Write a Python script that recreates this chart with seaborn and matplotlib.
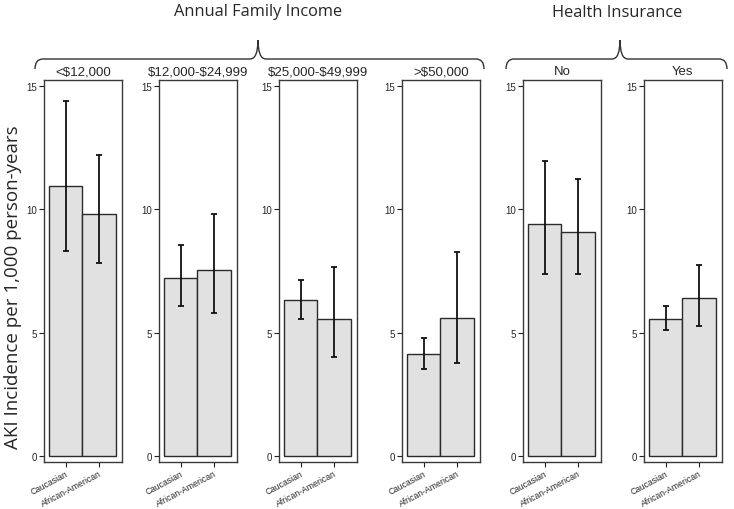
import matplotlib
matplotlib.use("Agg")
import matplotlib.pyplot as plt
from matplotlib.path import Path
from matplotlib.patches import PathPatch
import pandas as pd
import seaborn as sns

# data
races = ["Caucasian", "African-American"]
panel_titles = [r"<\$12,000", r"\$12,000-\$24,999", r"\$25,000-\$49,999", r">\$50,000", "No", "Yes"]
incidence = [
    [10.95, 9.8],
    [7.2, 7.54],
    [6.32, 5.55],
    [4.12, 5.58],
    [9.4, 9.08],
    [5.55, 6.4],
]
ci_low = [
    [8.31, 7.82],
    [6.07, 5.78],
    [5.55, 4.01],
    [3.53, 3.76],
    [7.38, 7.38],
    [5.1, 5.27],
]
ci_high = [
    [14.39, 12.2],
    [8.54, 9.8],
    [7.15, 7.67],
    [4.8, 8.26],
    [11.96, 11.23],
    [6.08, 7.74],
]
group_labels = ["Annual Family Income", "Health Insurance"]

sns.set_style("white")
plt.rcParams["font.family"] = ["Liberation Sans", "DejaVu Sans"]

W, H = 734, 510
fig = plt.figure(figsize=(W / 100, H / 100), dpi=100)

# panel left edges in pixels
lefts = [44, 159, 279, 402, 523, 644]
pw = 78
top, bottom = 81, 463

for i, left in enumerate(lefts):
    ax = fig.add_axes([left / W, 1 - bottom / H, pw / W, (bottom - top) / H])
    df = pd.DataFrame({"race": races, "value": incidence[i]})
    sns.barplot(data=df, x="race", y="value", order=races, width=1.0,
                color="#e1e1e1", edgecolor="#2b2b2b", linewidth=1.0,
                saturation=1, errorbar=None, ax=ax)
    vals = df["value"].values
    lo = [v - l for v, l in zip(vals, ci_low[i])]
    hi = [h - v for v, h in zip(vals, ci_high[i])]
    ax.errorbar(range(len(races)), vals, yerr=[lo, hi], fmt="none",
                ecolor="#111111", elinewidth=1.3, capsize=2.5, capthick=1.3)
    ax.set_ylim(-0.25, 15.25)
    ax.set_xlim(-0.65, 1.68)
    ax.set_yticks([0, 5, 10, 15])
    ax.set_xlabel("")
    ax.set_ylabel("")
    ax.set_title(panel_titles[i], fontsize=9.5, pad=4, family=["Liberation Sans"])
    ax.tick_params(axis="y", direction="out", length=3.5, width=0.8,
                   color="#222222", labelsize=7, pad=1.5, left=True)
    ax.tick_params(axis="x", direction="out", length=3.5, width=0.8,
                   color="#222222", labelsize=6.2, pad=1.0, bottom=True)
    ax.set_xticks(range(len(races)))
    ax.set_xticklabels(races, rotation=28, ha="right", rotation_mode="anchor")
    for s in ax.spines.values():
        s.set_color("#3a3a3a")
        s.set_linewidth(1.0)

fig.text(13 / W, 1 - 287 / H, "AKI Incidence per 1,000 person-years",
         rotation=90, ha="center", va="center", fontsize=13.5,
         family=["Open Sans", "DejaVu Sans"])


def brace(x0, x1, xm, y_line=60, y_end=70, y_tip=41, r=8):
    px = lambda x: x / W
    py = lambda y: 1 - y / H
    verts = [
        (x0, y_end), (x0, y_line), (x0 + r, y_line),
        (xm - r, y_line),
        (xm, y_line), (xm, y_tip),
        (xm, y_line), (xm + r, y_line),
        (x1 - r, y_line),
        (x1, y_line), (x1, y_end),
    ]
    codes = [Path.MOVETO, Path.CURVE3, Path.CURVE3, Path.LINETO,
             Path.CURVE3, Path.CURVE3, Path.CURVE3, Path.CURVE3,
             Path.LINETO, Path.CURVE3, Path.CURVE3]
    verts = [(px(x), py(y)) for x, y in verts]
    patch = PathPatch(Path(verts, codes), transform=fig.transFigure,
                      fill=False, edgecolor="#333333", linewidth=1.0)
    fig.add_artist(patch)


brace(35, 484, 258)
brace(506, 727, 620)

fig.text(258 / W, 1 - 12 / H, group_labels[0], ha="center", va="center",
         fontsize=11.8, family=["Open Sans", "DejaVu Sans"])
fig.text(617 / W, 1 - 13 / H, group_labels[1], ha="center", va="center",
         fontsize=11.8, family=["Open Sans", "DejaVu Sans"])

fig.savefig("out.png", dpi=100)
